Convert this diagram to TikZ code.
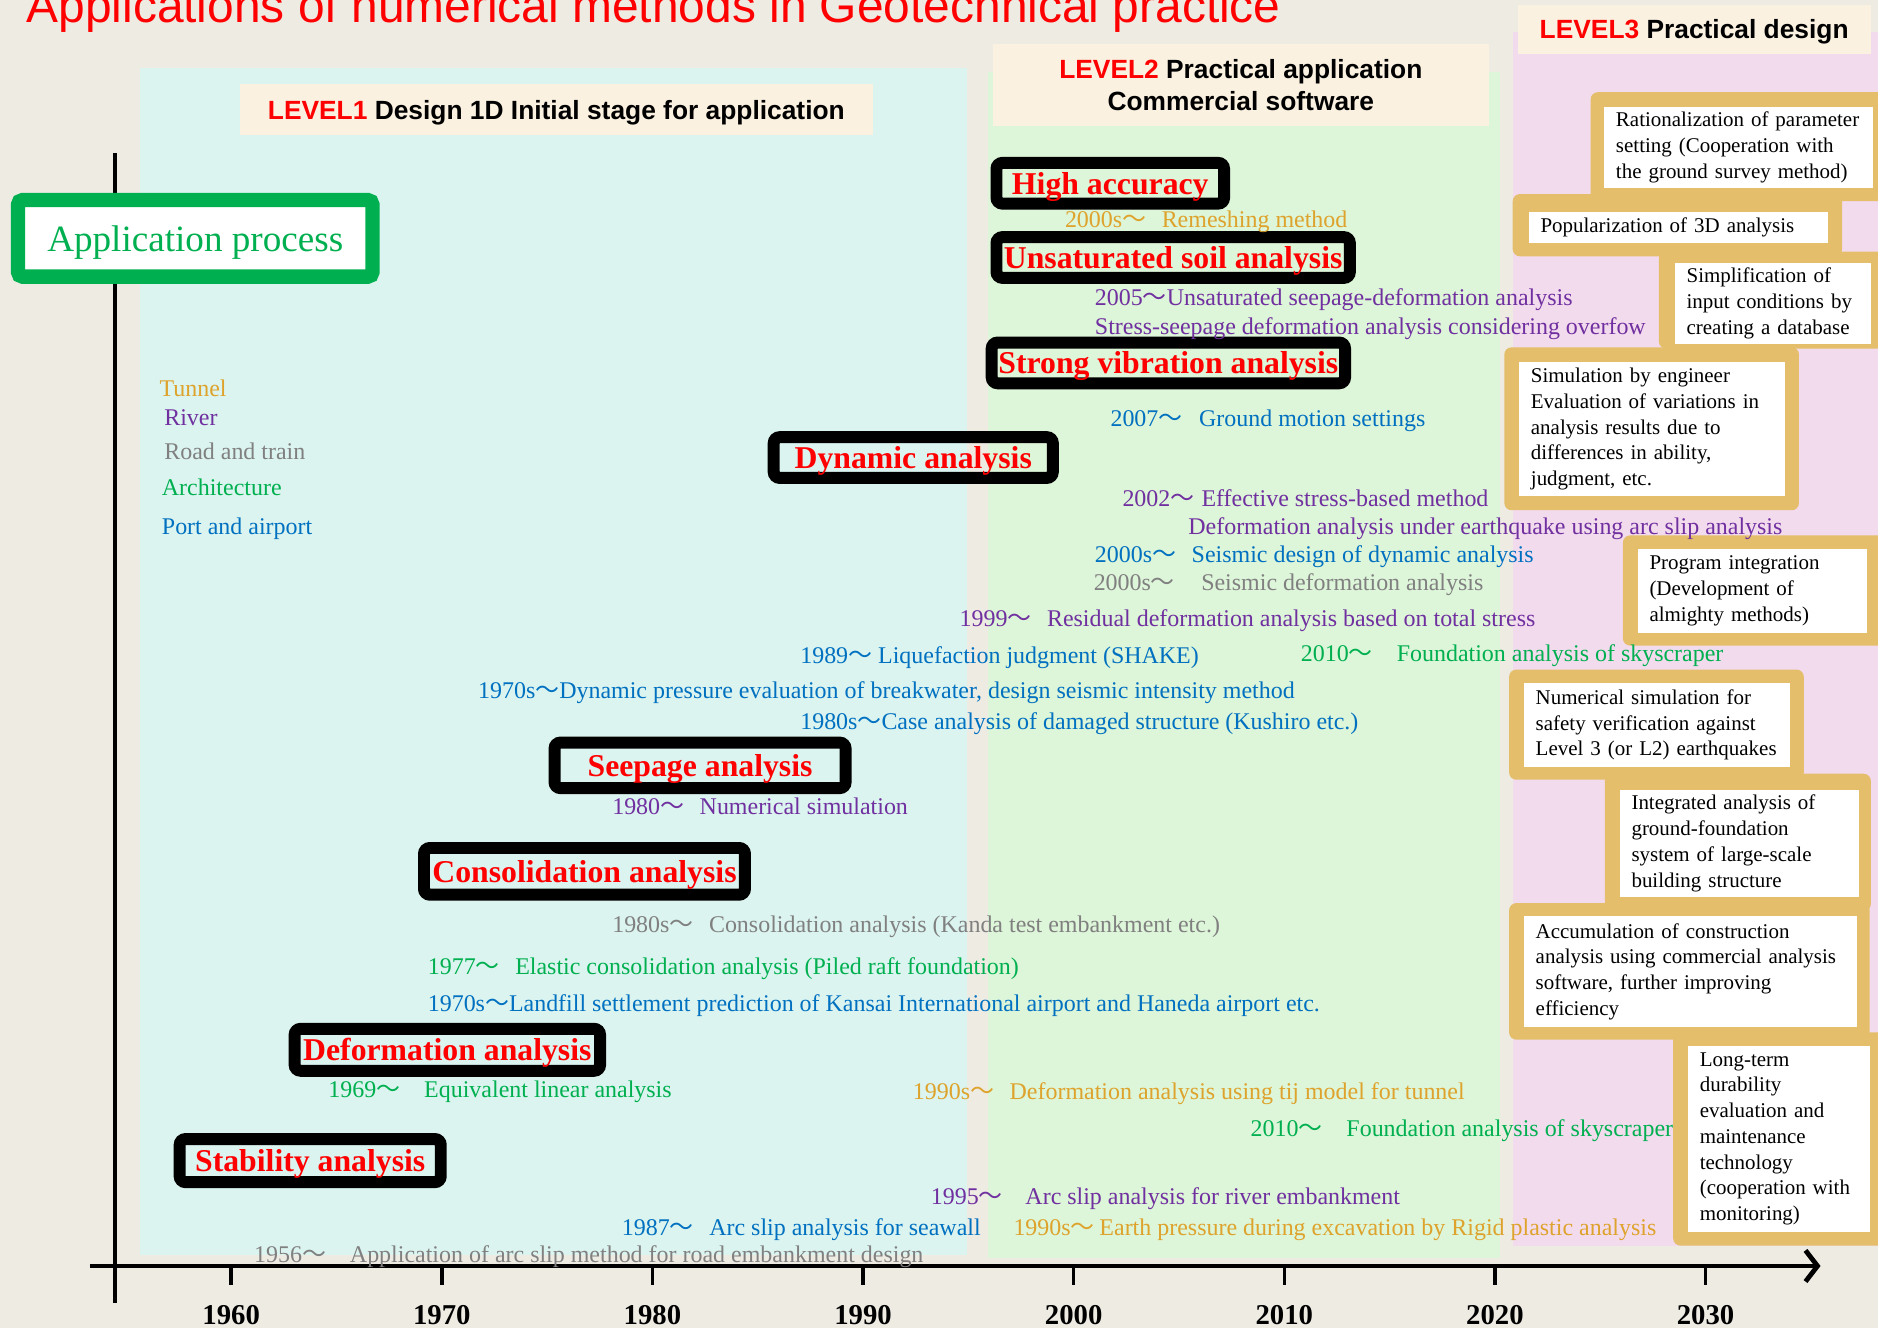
\documentclass[tikz,border=0pt]{standalone}
\usepackage{fontspec}
\setmainfont{Liberation Serif}
\newfontfamily\arialfont{Liberation Sans}
\newfontfamily\wavefont{Noto Sans CJK JP}
\usetikzlibrary{positioning,arrows.meta}
\definecolor{bgbeige}{RGB}{238,235,227}
\definecolor{lvlcyan}{RGB}{219,244,239}
\definecolor{lvlgreen}{RGB}{221,245,216}
\definecolor{lvlpink}{RGB}{243,219,238}
\definecolor{headcream}{RGB}{250,241,224}
\definecolor{goldframe}{RGB}{228,190,106}
\definecolor{apgreen}{RGB}{0,176,80}
\definecolor{tunnelc}{RGB}{222,163,44}
\definecolor{riverc}{RGB}{112,48,160}
\definecolor{roadc}{RGB}{128,128,128}
\definecolor{archc}{RGB}{0,176,80}
\definecolor{portc}{RGB}{0,112,192}
\newcommand{\since}[1]{#1{\wavefont 〜}}
\tikzset{
lvlhead/.style={fill=headcream,inner sep=0pt,align=center,font=\arialfont\bfseries\fontsize{22}{27}\selectfont},
apbox/.style={draw=apgreen,line width=12pt,rounded corners=4pt,fill=white,text=apgreen,inner sep=0pt,
minimum width=296pt,minimum height=64pt,text depth=0pt,font=\fontsize{31}{36}\selectfont},
catbox/.style={draw=black,line width=10pt,rounded corners=5pt,text=red,inner sep=0pt,minimum height=34pt,
text depth=0pt,font=\bfseries\fontsize{26.5}{30}\selectfont},
event/.style={anchor=mid west,inner sep=0pt,yshift=-5pt,font=\fontsize{20}{24}\selectfont},
legend/.style={anchor=mid west,inner sep=0pt,yshift=-5pt,font=\fontsize{20}{24}\selectfont},
goldback/.style={fill=goldframe,rounded corners=6pt},
wbox/.style={fill=white,anchor=north west,inner xsep=10pt,inner ysep=0pt,align=left,
font=\fontsize{17.5}{21.5}\selectfont},
axisline/.style={line width=4pt},
tickmark/.style={line width=3pt},
yearlab/.style={font=\bfseries\fontsize{24}{28}\selectfont}
}
\begin{document}
\begin{tikzpicture}[x=1pt,y=-1pt]
\useasboundingbox (0,0) rectangle (1568,1109);
\fill[bgbeige] (0,0) rectangle (1568,1109);
% level panels
\fill[lvlcyan] (117,57) rectangle (807,1048);
\fill[lvlgreen] (825,60) rectangle (1252,1050);
\fill[lvlpink] (1263,27) rectangle (1568,1040);
\node[lvlhead,minimum width=529pt,minimum height=43pt,text height=16pt,text depth=0pt] (lvlone) at (464.5,91.5)
  {\textcolor{red}{LEVEL1} Design 1D Initial stage for application};
\node[lvlhead,minimum width=414pt,minimum height=68pt] (lvltwo) at (1036,71)
  {\textcolor{red}{LEVEL2} Practical application\\Commercial software};
\node[lvlhead,minimum width=295pt,minimum height=41pt,text height=16pt,text depth=0pt] (lvlthree) at (1414.5,24.5)
  {\textcolor{red}{LEVEL3} Practical design};
\node[anchor=base west,inner sep=0pt,text=red,font=\arialfont\fontsize{40}{48}\selectfont] (title) at (22,19)
  {Applications of numerical methods in Geotechnical practice};
% gold frames of level 3
\fill[goldback] (1328,77) rectangle (1580,168);
\fill[goldback] (1263,162) rectangle (1538,214);
\fill[goldback] (1385,210) rectangle (1580,291);
\fill[goldback] (1256,290) rectangle (1502,426);
\fill[goldback] (1355,447) rectangle (1580,539);
\fill[goldback] (1260,559) rectangle (1506,651);
\fill[goldback] (1340,646) rectangle (1562,761);
\fill[goldback] (1260,754) rectangle (1561,868);
\fill[goldback] (1397,862) rectangle (1580,1040);
\node[wbox,minimum width=225pt,minimum height=68pt,text width=205pt] (ratio) at (1339,89)
  {Rationalization of parameter\\setting (Cooperation with\\the ground survey method)};
\node[wbox,minimum width=250pt,minimum height=26pt,text width=230pt] (pop3d) at (1276,177)
  {Popularization of 3D analysis};
\node[wbox,minimum width=164pt,minimum height=68pt,text width=144pt] (simpl) at (1398,219)
  {Simplification of\\input conditions by\\creating a database};
\node[wbox,minimum width=222pt,minimum height=112pt,text width=202pt] (engsim) at (1268,302)
  {Simulation by engineer\\Evaluation of variations in\\analysis results due to\\differences in ability,\\judgment, etc.};
\node[wbox,minimum width=192pt,minimum height=70pt,text width=172pt] (progint) at (1367,458)
  {Program integration\\(Development of\\almighty methods)};
\node[wbox,minimum width=222pt,minimum height=70pt,text width=202pt] (numsafety) at (1272,570)
  {Numerical simulation for\\safety verification against\\Level 3 (or L2) earthquakes};
\node[wbox,minimum width=200pt,minimum height=90pt,text width=180pt] (integ) at (1352,659)
  {Integrated analysis of\\ground-foundation\\system of large-scale\\building structure};
\node[wbox,minimum width=278pt,minimum height=92pt,text width=258pt] (accum) at (1272,765)
  {Accumulation of construction\\analysis using commercial analysis\\software, further improving\\efficiency};
\node[wbox,minimum width=152pt,minimum height=155pt,text width=132pt] (longterm) at (1409,873)
  {Long-term\\durability\\evaluation and\\maintenance\\technology\\(cooperation with\\monitoring)};
% axes
\coordinate (ytop) at (96,128);
\coordinate (ybot) at (96,1088);
\coordinate (xstart) at (75,1057);
\coordinate (xend) at (1520,1057);
\draw[axisline] (ytop) -- (ybot);
\draw[axisline,-{Straight Barb[length=10pt,width=26pt]}] (xstart) -- (xend);
\foreach \yr in {1960,1970,...,2030}{
  \pgfmathsetmacro\tx{193+(\yr-1960)*17.586}
  \draw[tickmark] (\tx,1057) -- (\tx,1073);
  \node[yearlab] (yr\yr) at (\tx,1098) {\yr};
}
\node[apbox] (approc) at (163,199) {Application process};
% legend
\node[legend,text=tunnelc] (lgtunnel) at (133,324) {Tunnel};
\node[legend,text=riverc] (lgriver) at (137,348) {River};
\node[legend,text=roadc] (lgroad) at (137,376) {Road and train};
\node[legend,text=archc] (lgarch) at (135,406) {Architecture};
\node[legend,text=portc] (lgport) at (135,439) {Port and airport};
% analysis types
\node[catbox,minimum width=190pt] (highacc) at (927,153) {High accuracy};
\node[catbox,minimum width=295pt] (unsatsoil) at (979.5,215) {Unsaturated soil analysis};
\node[catbox,minimum width=295pt] (strongvib) at (975.5,303) {Strong vibration analysis};
\node[catbox,minimum width=233pt] (dynamic) at (762.5,382) {Dynamic analysis};
\node[catbox,minimum width=243pt,minimum height=38pt] (seepage) at (584.5,639) {Seepage analysis};
\node[catbox,minimum width=268pt,minimum height=39pt] (consol) at (488,727.5) {Consolidation analysis};
\node[catbox,minimum width=255pt,minimum height=35pt] (deform) at (373.5,876.5) {Deformation analysis};
\node[catbox,minimum width=218pt,minimum height=36pt] (stability) at (259,969) {Stability analysis};
% events
\node[event,text=tunnelc] (remesh) at (889,183) {\since{2000s}\hspace{13pt}Remeshing method};
\node[event,text=riverc] (unsatseep) at (914,248) {\since{2005}Unsaturated seepage-deformation analysis};
\node[event,text=riverc] (overflow) at (914,272) {Stress-seepage deformation analysis considering overfow};
\node[event,text=portc] (groundmot) at (927,349) {\since{2007}\hspace{14pt}Ground motion settings};
\node[event,text=riverc] (effstress) at (937,416) {\since{2002}\hspace{6pt}Effective stress-based method};
\node[event,text=riverc] (arcquake) at (992,439) {Deformation analysis under earthquake using arc slip analysis};
\node[event,text=portc] (seisdesign) at (914,462) {\since{2000s}\hspace{13pt}Seismic design of dynamic analysis};
\node[event,text=roadc] (seisdef) at (913,486) {\since{2000s}\hspace{22pt}Seismic deformation analysis};
\node[event,text=riverc] (residual) at (801,516) {\since{1999}\hspace{13pt}Residual deformation analysis based on total stress};
\node[event,text=portc] (shake) at (668,547) {\since{1989}\hspace{5pt}Liquefaction judgment (SHAKE)};
\node[event,text=archc] (skyupper) at (1086,545) {\since{2010}\hspace{20pt}Foundation analysis of skyscraper};
\node[event,text=portc] (breakwater) at (399,576) {\since{1970s}Dynamic pressure evaluation of breakwater, design seismic intensity method};
\node[event,text=portc] (kushiro) at (668,602) {\since{1980s}Case analysis of damaged structure (Kushiro etc.)};
\node[event,text=riverc] (numsim) at (511,673) {\since{1980}\hspace{13pt}Numerical simulation};
\node[event,text=roadc] (kanda) at (511,771) {\since{1980s}\hspace{13pt}Consolidation analysis (Kanda test embankment etc.)};
\node[event,text=archc] (piledraft) at (357,806) {\since{1977}\hspace{13pt}Elastic consolidation analysis (Piled raft foundation)};
\node[event,text=portc] (landfill) at (357,837) {\since{1970s}Landfill settlement prediction of Kansai International airport and Haneda airport etc.};
\node[event,text=archc] (eqlinear) at (274,909) {\since{1969}\hspace{20pt}Equivalent linear analysis};
\node[event,text=tunnelc] (tijmodel) at (762,911) {\since{1990s}\hspace{13pt}Deformation analysis using tij model for tunnel};
\node[event,text=archc] (skylower) at (1044,942) {\since{2010}\hspace{20pt}Foundation analysis of skyscraper};
\node[event,text=riverc] (riverslip) at (777,998) {\since{1995}\hspace{19pt}Arc slip analysis for river embankment};
\node[event,text=portc] (seawall) at (519,1024) {\since{1987}\hspace{13pt}Arc slip analysis for seawall};
\node[event,text=tunnelc] (rigidplas) at (846,1024) {\since{1990s}\hspace{4pt}Earth pressure during excavation by Rigid plastic analysis};
\node[event,text=roadc] (roadslip) at (212,1047) {\since{1956}\hspace{20pt}Application of arc slip method for road embankment design};
\end{tikzpicture}
\end{document}
